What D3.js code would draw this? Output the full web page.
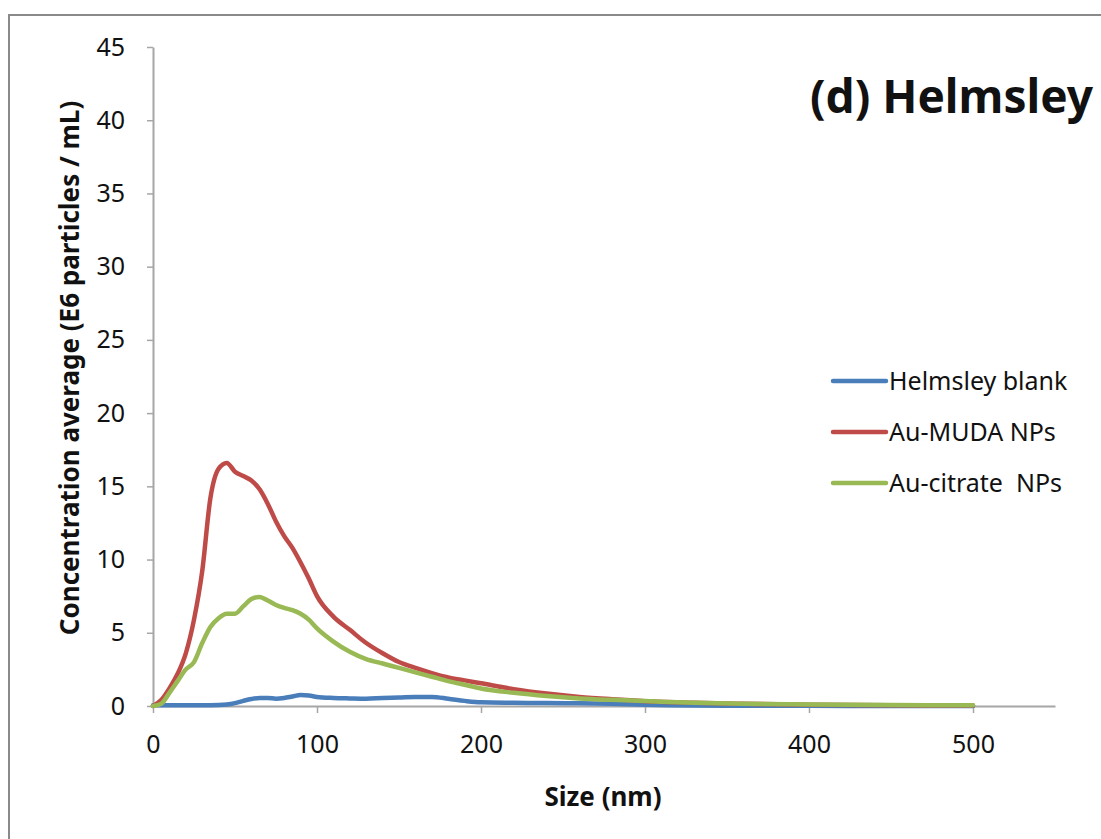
<!DOCTYPE html>
<html>
<head>
<meta charset="utf-8">
<script src="https://cdn.jsdelivr.net/npm/d3@7"></script>
<style>
  html, body { margin: 0; padding: 0; background: #fff; }
  svg { display: block; }
  text { font-family: "Noto Sans", "Open Sans", sans-serif; fill: #111; }
</style>
</head>
<body>
<svg id="chart" width="1101" height="839"></svg>
<script>
// Particle size bins (nm)
const sizes = [0, 5, 10, 15, 20, 25, 30, 35, 40, 45, 50, 55, 60, 65, 70, 75, 80, 85, 90, 95,
  100, 110, 120, 130, 140, 150, 160, 170, 180, 190, 200, 220, 240, 260, 280, 300, 330, 360, 400, 450, 500];

// Concentration (E6 particles / mL) per size bin
const blankValues = [0.05, 0.05, 0.05, 0.05, 0.05, 0.05, 0.05, 0.05, 0.06, 0.1, 0.2, 0.35, 0.48, 0.55, 0.55, 0.5, 0.55, 0.65, 0.75, 0.72,
  0.62, 0.55, 0.52, 0.5, 0.55, 0.58, 0.62, 0.62, 0.5, 0.35, 0.25, 0.22, 0.2, 0.18, 0.15, 0.08, 0.03, 0.02, 0.01, 0, 0];
const mudaValues = [0, 0.4, 1.2, 2.2, 3.6, 5.9, 9.2, 14.2, 16.2, 16.6, 16.0, 15.7, 15.4, 14.8, 13.8, 12.6, 11.6, 10.8, 9.8, 8.7,
  7.5, 6.1, 5.2, 4.3, 3.6, 3.0, 2.6, 2.25, 1.95, 1.75, 1.55, 1.15, 0.85, 0.62, 0.46, 0.33, 0.22, 0.15, 0.08, 0.05, 0.03];
const citrateValues = [0, 0.15, 0.9, 1.7, 2.5, 3.0, 4.3, 5.4, 6.0, 6.3, 6.3, 6.8, 7.3, 7.45, 7.2, 6.9, 6.7, 6.55, 6.3, 5.9,
  5.3, 4.4, 3.7, 3.2, 2.9, 2.6, 2.3, 2.0, 1.7, 1.45, 1.2, 0.9, 0.68, 0.52, 0.42, 0.34, 0.22, 0.15, 0.1, 0.07, 0.05];

const seriesNames = ["Helmsley blank", "Au-MUDA NPs", "Au-citrate  NPs"];
const seriesColors = ["#4A7EBB", "#BE4B48", "#98B954"];
const seriesValues = [blankValues, mudaValues, citrateValues];

const xTicks = [0, 100, 200, 300, 400, 500];
const yTicks = [0, 5, 10, 15, 20, 25, 30, 35, 40, 45];

const svg = d3.select("#chart");

// outer chart frame
svg.append("rect")
  .attr("x", 9).attr("y", 15)
  .attr("width", 1120).attr("height", 850)
  .attr("fill", "#fff")
  .attr("stroke", "#8a8a8a").attr("stroke-width", 2);

const plot = { left: 153, right: 1055, top: 47, bottom: 706 };

const x = d3.scaleLinear().domain([0, 550]).range([plot.left, plot.right]);
const y = d3.scaleLinear().domain([0, 45]).range([plot.bottom, plot.top]);

// x axis
const xAxis = svg.append("g")
  .attr("transform", `translate(0,${plot.bottom})`)
  .call(d3.axisBottom(x).tickValues(xTicks).tickSize(7).tickPadding(22).tickSizeOuter(0));
xAxis.select(".domain").attr("stroke", "#a6a6a6").attr("stroke-width", 2);
xAxis.selectAll(".tick line").attr("stroke", "#a6a6a6").attr("stroke-width", 1.5);
xAxis.selectAll(".tick text").attr("font-size", 25).attr("fill", "#111")
  .style("font-family", "'Noto Sans', sans-serif");

// y axis
const yAxis = svg.append("g")
  .attr("transform", `translate(${plot.left},0)`)
  .call(d3.axisLeft(y).tickValues(yTicks).tickSize(6).tickPadding(22).tickSizeOuter(0));
yAxis.select(".domain").attr("stroke", "#a6a6a6").attr("stroke-width", 2);
yAxis.selectAll(".tick line").attr("stroke", "#a6a6a6").attr("stroke-width", 1.5);
yAxis.selectAll(".tick text").attr("font-size", 25).attr("fill", "#111")
  .style("font-family", "'Noto Sans', sans-serif");

// series lines
const line = d3.line()
  .x((d, i) => x(sizes[i]))
  .y(d => y(d))
  .curve(d3.curveMonotoneX);

seriesValues.forEach((vals, k) => {
  svg.append("path")
    .datum(vals)
    .attr("d", line)
    .attr("fill", "none")
    .attr("stroke", seriesColors[k])
    .attr("stroke-width", 4.5)
    .attr("stroke-linejoin", "round")
    .attr("stroke-linecap", "round");
});

// legend
const legend = svg.append("g");
seriesNames.forEach((name, k) => {
  const ly = 381 + k * 51;
  legend.append("line")
    .attr("x1", 833).attr("x2", 886)
    .attr("y1", ly).attr("y2", ly)
    .attr("stroke", seriesColors[k]).attr("stroke-width", 4.5)
    .attr("stroke-linecap", "round");
  legend.append("text")
    .attr("x", 889).attr("y", ly)
    .attr("dy", "0.35em")
    .attr("font-size", 25)
    .attr("fill", "#111")
    .style("white-space", "pre")
    .text(name);
});

// title
svg.append("text")
  .attr("x", 810).attr("y", 113)
  .attr("font-size", 46)
  .attr("font-weight", "bold")
  .text("(d) Helmsley");

// axis titles
svg.append("text")
  .attr("x", 603).attr("y", 806)
  .attr("text-anchor", "middle")
  .attr("font-size", 26)
  .attr("font-weight", "bold")
  .text("Size (nm)");

svg.append("text")
  .attr("transform", `translate(79,368) rotate(-90)`)
  .attr("text-anchor", "middle")
  .attr("font-size", 26)
  .attr("font-weight", "bold")
  .text("Concentration average (E6 particles / mL)");
</script>
</body>
</html>
